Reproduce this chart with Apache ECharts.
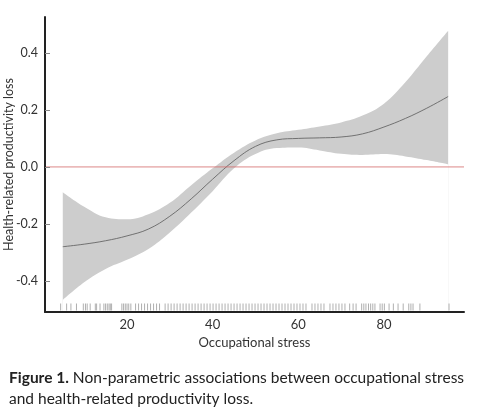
<!DOCTYPE html>
<html>
<head>
<meta charset="utf-8">
<script src="https://cdn.jsdelivr.net/npm/echarts@6/dist/echarts.min.js"></script>
<style>
html,body{margin:0;padding:0;background:#fff;}
#chart{width:477px;height:412px;}
</style>
</head>
<body>
<div id="chart"></div>
<script>
// ---- data ----
const xValues = [5, 10, 15, 20, 25, 30, 35, 40, 45, 50, 55, 60, 65, 70, 75, 80, 85, 90, 95];
const fitValues = [-0.280, -0.271, -0.259, -0.242, -0.218, -0.173, -0.112, -0.043, 0.022, 0.072, 0.095, 0.100, 0.102, 0.105, 0.116, 0.140, 0.170, 0.206, 0.247];
const upperValues = [-0.089, -0.140, -0.177, -0.184, -0.166, -0.126, -0.064, -0.005, 0.050, 0.093, 0.118, 0.130, 0.142, 0.156, 0.180, 0.222, 0.297, 0.388, 0.478];
const lowerValues = [-0.467, -0.405, -0.358, -0.326, -0.288, -0.230, -0.160, -0.085, -0.005, 0.045, 0.066, 0.068, 0.058, 0.046, 0.042, 0.045, 0.037, 0.024, 0.009];
const rugValues = [4.5, 5.9, 6.9, 8.2, 9.8, 10.3, 10.7, 11.4, 12.6, 12.9, 13.7,
  14.6, 15.0, 15.4, 15.8, 16.1, 16.4, 18.8, 19.2, 19.6, 20.0, 20.4, 20.9,
  22.0, 22.7, 23.4, 24.1, 24.8, 25.5, 26.2, 26.9, 27.6, 28.9, 29.6, 30.3, 31.0, 31.7, 32.4, 33.1, 33.8,
  34.5, 35.2, 35.9, 36.6, 37.3, 38.0, 38.7, 39.4, 40.1, 40.8, 41.5, 42.2, 42.9, 43.6, 44.3, 45.0,
  45.7, 46.4, 47.1, 47.8, 48.5, 49.2, 49.9, 50.6, 51.3, 52.0, 52.7, 53.4, 54.1, 54.8, 55.5, 56.2,
  56.9, 57.6, 58.3, 59.0, 59.7, 60.4, 61.1, 61.8, 63.2, 63.9, 64.6, 65.3, 66.0, 67.4, 68.1, 68.8,
  69.5, 70.2, 70.9, 72.0, 72.8, 73.5, 74.8, 75.3, 75.8, 76.4, 76.9, 77.4, 77.9,
  79.1, 79.6, 80.1, 81.2, 82.2, 83.3, 84.5, 85.8, 86.3, 86.8, 88.4, 95.2];
const referenceValue = 0;
const xTicks = [20, 40, 60, 80];
const yTicks = [-0.4, -0.2, 0.0, 0.2, 0.4];
const xName = 'Occupational stress';
const yName = 'Health-related productivity loss';
const captionBold = 'Figure 1.';
const captionLine1 = ' Non-parametric associations between occupational stress';
const captionLine2 = 'and health-related productivity loss.';

const xMin = 0.85, xMax = 98.7, yMin = -0.509, yMax = 0.526;

const pairs = (ys) => xValues.map((x, i) => [x, ys[i]]);

const chart = echarts.init(document.getElementById('chart'), null, {renderer: 'canvas'});
const font = 'Lato, "Open Sans", sans-serif';

chart.setOption({
  animation: false,
  backgroundColor: '#fff',
  title: {
    left: 9,
    top: 367,
    padding: 0,
    text: '{b|' + captionBold + '}{r|' + captionLine1 + '}\n{r|' + captionLine2 + '}',
    textStyle: {
      rich: {
        b: {fontFamily: font, fontWeight: 'bold', fontSize: 15.5, color: '#222', lineHeight: 21},
        r: {fontFamily: font, fontWeight: 'normal', fontSize: 15.5, color: '#222', lineHeight: 21}
      }
    }
  },
  grid: {left: 45, right: 13, top: 17, bottom: 100, containLabel: false, outerBoundsMode: 'none'},
  xAxis: {
    type: 'value', min: xMin, max: xMax, z: 10,
    name: xName, nameLocation: 'middle', nameGap: 24, nameMoveOverlap: false,
    nameTextStyle: {fontFamily: font, fontSize: 13, color: '#333'},
    axisLine: {show: true, onZero: false, lineStyle: {color: '#222', width: 2}},
    axisTick: {show: false},
    splitLine: {show: false},
    axisLabel: {customValues: xTicks, fontFamily: font, fontSize: 13, color: '#333', margin: 6},
  },
  yAxis: {
    type: 'value', min: yMin, max: yMax, z: 10,
    name: yName, nameLocation: 'middle', nameGap: 30, nameRotate: 90, nameMoveOverlap: false,
    nameTextStyle: {fontFamily: font, fontSize: 12.5, color: '#333'},
    axisLine: {show: true, onZero: false, lineStyle: {color: '#222', width: 2}},
    axisTick: {show: true, inside: true, length: 5, customValues: yTicks, lineStyle: {color: '#888'}},
    splitLine: {show: false},
    axisLabel: {customValues: yTicks, fontFamily: font, fontSize: 12.5, color: '#333', margin: 7,
      formatter: (v) => v.toFixed(1)},
  },
  series: [
    {
      // upper confidence limit, filled grey down to the bottom of the plot
      type: 'line', name: 'upper', data: pairs(upperValues), z: 2,
      smooth: 0.4, symbol: 'none', lineStyle: {opacity: 0}, silent: true,
      areaStyle: {color: '#cdcdcd', opacity: 1, origin: 'start'}
    },
    {
      // lower confidence limit, white fill below it leaves only the band
      type: 'line', name: 'lower', data: pairs(lowerValues), z: 3,
      smooth: 0.4, symbol: 'none', lineStyle: {opacity: 0}, silent: true,
      areaStyle: {color: '#ffffff', opacity: 1, origin: 'start'}
    },
    {
      type: 'line', name: 'fit', data: pairs(fitValues), z: 4,
      smooth: 0.4, symbol: 'none', lineStyle: {color: '#666', width: 0.9}, silent: true
    },
    {
      type: 'line', name: 'reference', z: 6, silent: true, symbol: 'none',
      data: [[xMin, referenceValue], [xMax, referenceValue]],
      lineStyle: {color: '#d46a6a', width: 0.8, opacity: 1}
    },
    {
      type: 'custom', name: 'rug', data: rugValues.map(v => [v]), silent: true, z: 5,
      renderItem: (params, api) => {
        const p = api.coord([api.value(0), yMin]);
        return {
          type: 'line',
          shape: {x1: p[0], y1: p[1] - 1.5, x2: p[0], y2: p[1] - 8.5},
          style: {stroke: '#9a9a9a', lineWidth: 0.8}
        };
      }
    }
  ]
});
</script>
</body>
</html>
